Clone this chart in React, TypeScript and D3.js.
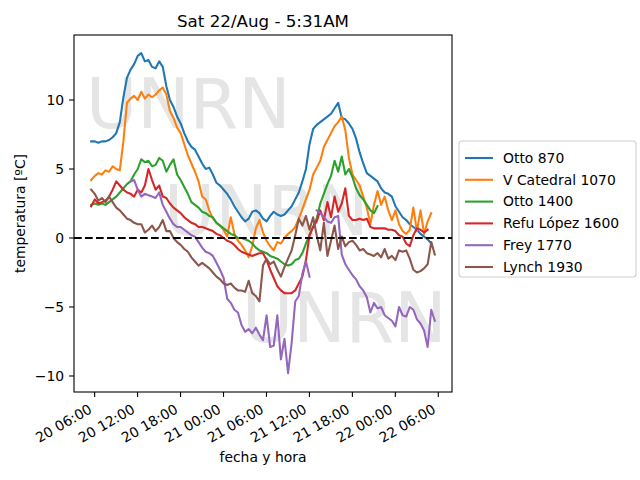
import * as d3 from 'd3'

// readings every 30 min from Thu 20/Aug 05:31 to Sat 22/Aug 05:31
const START = new Date(2020, 7, 20, 5, 31)
const STEP_MIN = 30

const seriesNames = ['Otto 870', 'V Catedral 1070', 'Otto 1400', 'Refu López 1600', 'Frey 1770', 'Lynch 1930']
const colors = ['#1f77b4', '#ff7f0e', '#2ca02c', '#d62728', '#9467bd', '#8c564b']

const otto870 = [
  7.0, 7.0, 6.9, 7.0, 7.0, 7.1, 7.3, 7.6, 8.4, 10.2,
  11.6, 12.2, 12.6, 13.2, 13.4, 12.8, 12.9, 12.4, 12.3, 12.8,
  12.4, 11.0, 10.0, 9.5, 8.8, 8.3, 7.6, 7.0, 6.6, 6.4,
  5.9, 5.4, 5.0, 5.1, 4.6, 4.0, 3.8, 3.5, 3.2, 2.8,
  2.3, 1.9, 1.5, 1.2, 1.4, 1.9, 2.0, 1.8, 1.4, 1.2,
  1.6, 1.9, 1.7, 1.6, 1.7, 2.0, 2.3, 2.8, 3.3, 4.1,
  5.0, 6.8, 7.9, 8.2, 8.4, 8.6, 8.8, 9.0, 9.4, 9.8,
  8.7, 8.6, 8.3, 7.9, 7.2, 6.2, 5.4, 4.7, 4.5, 4.3,
  4.1, 3.6, 3.3, 3.2, 3.0, 2.3, 1.9, 1.5, 1.3, 1.0,
  0.8, 0.6, 0.3, 0.1, -0.1, -0.4, null,
]
const vCatedral1070 = [
  4.2, 4.5, 4.7, 4.6, 4.9, 4.8, 5.2, 5.0, 4.9, 7.0,
  9.8, 10.1, 10.3, 10.0, 10.6, 10.1, 10.4, 10.2, 10.4, 10.7,
  10.9, 10.4, 9.2, 8.7, 8.0, 7.6, 6.8, 6.0, 5.4, 4.8,
  4.1, 3.0, 2.8, 2.0, 1.4, 1.1, 0.9, 0.6, 0.1, 1.5,
  0.3, -0.2, -0.5, -0.9, -1.4, -0.6, 0.7, 1.3, 0.4, -0.2,
  -0.6, -0.9, -0.3, -0.4, 0.0, 0.3, 0.5, 0.8, 1.4, 2.1,
  2.8, 3.5, 4.6, 5.1, 5.6, 6.6, 7.1, 7.6, 8.1, 8.4,
  8.8, 7.8, 5.8, 4.6, 4.2, 3.8, 3.0, 2.2, 1.0, 2.4,
  3.4, 2.4, 3.0, 2.0, 1.3, 2.0, 1.0, 0.5, 0.3, 0.6,
  2.2, 0.5, 2.0, 0.3, 1.2, 1.8, null,
]
const otto1400 = [
  2.4, 2.5, 2.4, 2.5, 2.4, 2.6, 2.8, 3.0, 3.3, 3.6,
  3.9, 4.1, 4.6, 5.0, 5.7, 5.5, 5.6, 5.2, 5.3, 5.8,
  5.6, 4.8, 5.3, 5.7, 4.6, 4.2, 3.7, 3.2, 2.6, 2.4,
  2.2, 1.9, 1.8, 1.6, 1.5, 1.1, 0.9, 0.7, 0.5, 0.3,
  0.2, 0.0, 0.0, -0.1, -0.2, -0.4, -0.7, -0.9, -1.0, -1.1,
  -1.3, -1.4, -1.5, -1.7, -1.9, -2.0, -1.9, -1.6, -1.5, -1.1,
  -0.4, 0.2, 0.8, 1.4, 2.5, 3.2, 3.9, 4.5, 5.6, 4.8,
  5.9, 4.6, 5.0, 4.4, 3.6, 3.1, 2.8, 2.4, 2.0, 1.8,
  2.3, null, null, null, null, null, null, null, null, null,
  null, null, null, null, null, null, null,
]
const refuLopez1600 = [
  2.3, 2.8, 2.5, 2.6, 2.7, 3.0, 3.5, 4.1, 3.8, 3.5,
  3.3, 3.2, 3.0, 3.5, 3.3, 3.8, 5.0, 4.2, 3.5, 3.8,
  3.0, 2.9, 2.5, 2.2, 2.0, 1.8, 1.5, 1.3, 1.1, 1.0,
  0.8, 0.8, 0.7, 0.6, 0.5, 0.3, 0.2, 0.0, -0.2, -0.3,
  -0.5, -0.8, -1.0, -1.1, -1.2, -1.3, -1.2, -1.1, -1.1, -1.6,
  -2.3, -2.9, -3.5, -3.8, -4.0, -4.0, -4.0, -3.8, -3.3, -2.8,
  -1.6, 0.2, 0.8, 1.2, 2.0, 1.3, 2.6, 1.5, 3.0, 1.9,
  2.5, 3.6, 1.6, 1.3, 1.3, 1.4, 1.3, 1.4, 0.8, 0.7,
  0.7, 0.7, 0.7, 0.6, 0.6, 0.5, 0.2, 0.1, -0.4, -0.6,
  0.2, 0.7, 0.6, 0.4, 0.6, null, null,
]
const frey1770 = [
  null, null, null, null, null, null, null, null, null, null,
  null, 4.1, 4.2, 3.5, 3.0, 3.2, 3.1, 3.0, 2.9, 3.3,
  2.4, 1.9, 1.4, 1.0, 0.8, 0.8, 0.6, 0.4, 0.2, 0.1,
  -0.3, -0.7, -1.0, -1.1, -1.3, -1.8, -2.3, -2.9, -4.4, -4.7,
  -5.2, -5.4, -6.3, -6.8, -6.6, -6.9, -6.5, -7.0, -7.4, -5.6,
  -7.9, -7.8, -5.6, -8.8, -7.3, -9.8, -7.6, -4.6, -4.2, -2.6,
  -1.7, -2.8, null, 2.0, 1.8, 1.5, 1.2, 1.1, 1.5, 1.6,
  -1.2, -1.9, -2.3, -2.7, -3.0, -3.5, -3.8, -4.3, -5.4, -4.7,
  -5.1, -5.0, -5.6, -5.8, -6.0, -6.4, -5.0, -5.6, -5.7, -5.0,
  -5.2, -5.9, -6.2, -6.7, -7.9, -5.2, -6.0,
]
const lynch1930 = [
  3.5, 3.2, 2.7, 2.9, 2.6, 3.0, 2.6, 2.2, 2.0, 1.7,
  1.4, 1.3, 1.1, 1.0, 1.0, 0.4, 0.6, 0.9, 0.5, 0.8,
  1.3, 0.5, 0.5, 0.0, -0.3, -0.5, -0.8, -1.0, -1.4, -1.7,
  -2.0, -1.8, -2.0, -2.2, -2.5, -2.8, -3.0, -3.3, -3.4, -3.3,
  -3.6, -3.8, -3.8, -3.9, -3.1, -4.0, -4.2, -4.6, -2.0, -1.5,
  -1.9, -1.7, -2.3, -2.8, -2.1, -1.5, -0.9, 0.2, 1.4, 0.9,
  1.6, 0.6, 1.5, 0.2, -0.9, 1.1, -1.3, -0.2, 0.9, -0.8,
  0.1, -0.6, -0.3, -0.2, -0.5, -0.9, -0.8, -1.1, -1.2, -1.3,
  -1.1, -1.4, -0.8, -1.5, -1.3, -1.6, -0.9, -1.0, -0.9, -1.5,
  -2.3, -2.5, -2.4, -2.2, -1.9, -0.3, -1.2,
]

const allSeries = [otto870, vCatedral1070, otto1400, refuLopez1600, frey1770, lynch1930]

const yTicks = [-10, -5, 0, 5, 10]
const xTickTimes = [
  new Date(2020, 7, 20, 6), new Date(2020, 7, 20, 12), new Date(2020, 7, 20, 18),
  new Date(2020, 7, 21, 0), new Date(2020, 7, 21, 6), new Date(2020, 7, 21, 12),
  new Date(2020, 7, 21, 18), new Date(2020, 7, 22, 0), new Date(2020, 7, 22, 6),
]

const W = 640
const H = 480
const M = { left: 74, right: 452, top: 35, bottom: 392 }
const FONT = 'DejaVu Sans, sans-serif'

const timeAt = (i: number) => new Date(START.getTime() + i * STEP_MIN * 60 * 1000)

export default function App() {
  const endTime = timeAt(otto870.length - 1)
  const pad = 0.05 * (endTime.getTime() - START.getTime())

  const x = d3.scaleTime()
    .domain([new Date(START.getTime() - pad), new Date(endTime.getTime() + pad)])
    .range([M.left, M.right])

  const y = d3.scaleLinear()
    .domain([-11.16, 14.71])
    .range([M.bottom, M.top])

  const line = d3.line<number | null>()
    .defined((d) => d != null)
    .x((_, i) => x(timeAt(i)))
    .y((d) => y(d as number))

  const fmt = d3.timeFormat('%d %H:%M')
  const fmtY = (v: number) => (v < 0 ? '\u2212' + Math.abs(v) : String(v))

  const cx = (M.left + M.right) / 2
  const legendX = 459
  const legendY = 141
  const rowH = 21.8

  return (
    <svg width={W} height={H} style={{ position: 'absolute', left: 0, top: 0, background: '#fff' }}
      fontFamily={FONT}>
      <defs>
        <clipPath id="plot-area">
          <rect x={M.left} y={M.top} width={M.right - M.left} height={M.bottom - M.top} />
        </clipPath>
      </defs>

      {/* watermark */}
      <g fill="#e5e5e5" fontSize={70}>
        <text x={86} y={128}>UNRN</text>
        <text x={164} y={235}>UNRN</text>
        <text x={242} y={342}>UNRN</text>
      </g>

      <g clipPath="url(#plot-area)" fill="none">
        {allSeries.map((s, k) => (
          <path key={seriesNames[k]} d={line(s) || ''} stroke={colors[k]} strokeWidth={2.08}
            strokeLinejoin="round" strokeLinecap="square" />
        ))}
        <line x1={M.left} x2={M.right} y1={y(0)} y2={y(0)} stroke="#000" strokeWidth={2.08}
          strokeDasharray="7.7 3.3" />
      </g>

      <rect x={M.left} y={M.top} width={M.right - M.left} height={M.bottom - M.top}
        fill="none" stroke="#000" strokeWidth={1.1} />

      {/* y axis */}
      {yTicks.map((t) => (
        <g key={t}>
          <line x1={M.left - 4.9} x2={M.left} y1={y(t)} y2={y(t)} stroke="#000" strokeWidth={1.1} />
          <text x={M.left - 9.8} y={y(t)} dy="0.35em" textAnchor="end" fontSize={13.9}>{fmtY(t)}</text>
        </g>
      ))}

      {/* x axis */}
      {xTickTimes.map((t) => (
        <g key={t.getTime()}>
          <line x1={x(t)} x2={x(t)} y1={M.bottom} y2={M.bottom + 4.9} stroke="#000" strokeWidth={1.1} />
          <text transform={`translate(${x(t) - 1.7},${M.bottom + 20}) rotate(-30)`} textAnchor="end"
            fontSize={13.9}>{fmt(t)}</text>
        </g>
      ))}

      <text x={cx} y={462} textAnchor="middle" fontSize={13.9}>fecha y hora</text>
      <text transform={`translate(25,${(M.top + M.bottom) / 2}) rotate(-90)`} textAnchor="middle"
        fontSize={13.9}>temperatura [ºC]</text>
      <text x={cx} y={27} textAnchor="middle" fontSize={16.7}>Sat 22/Aug - 5:31AM</text>

      {/* legend */}
      <rect x={legendX} y={legendY} width={177} height={136} rx={3} fill="#fff" fillOpacity={0.8}
        stroke="#d0d0d0" strokeWidth={1.1} />
      {seriesNames.map((name, k) => {
        const ry = legendY + 17 + k * rowH
        return (
          <g key={name}>
            <line x1={legendX + 6} x2={legendX + 34} y1={ry} y2={ry} stroke={colors[k]} strokeWidth={2.08} />
            <text x={legendX + 44} y={ry} dy="0.35em" fontSize={13.9}>{name}</text>
          </g>
        )
      })}
    </svg>
  )
}
